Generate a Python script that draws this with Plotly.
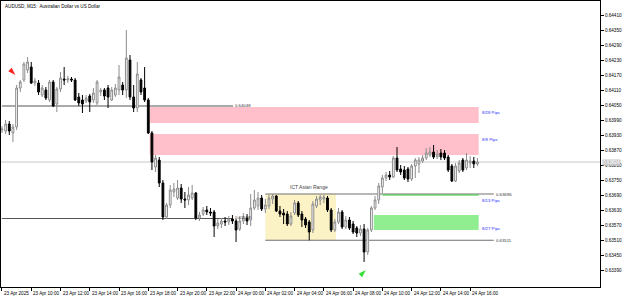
import plotly.graph_objects as go
import pandas as pd

# ---------------- data ----------------
bar_times = pd.date_range("2025-04-23 08:00", periods=131, freq="15min")

opens = [0.63952, 0.63948, 0.63976, 0.63940, 0.63964, 0.64120, 0.64152, 0.64192, 0.64204, 0.64140,
         0.64140, 0.64092, 0.64112, 0.64072, 0.64144, 0.64056, 0.64116, 0.64156, 0.64152, 0.64156,
         0.64152, 0.64084, 0.64072, 0.64068, 0.64088, 0.64072, 0.64060, 0.64104, 0.64112, 0.64120,
         0.64072, 0.64092, 0.64112, 0.64132, 0.64112, 0.64232, 0.64084, 0.64040, 0.64152, 0.64120,
         0.64072, 0.63940, 0.63804, 0.63832, 0.63740, 0.63604, 0.63652, 0.63704, 0.63680, 0.63720,
         0.63676, 0.63672, 0.63680, 0.63700, 0.63600, 0.63616, 0.63632, 0.63624, 0.63624, 0.63568,
         0.63576, 0.63588, 0.63584, 0.63596, 0.63588, 0.63556, 0.63588, 0.63600, 0.63592, 0.63640,
         0.63648, 0.63680, 0.63636, 0.63648, 0.63676, 0.63688, 0.63628, 0.63620, 0.63616, 0.63576,
         0.63620, 0.63660, 0.63616, 0.63596, 0.63584, 0.63552, 0.63648, 0.63672, 0.63676, 0.63680,
         0.63632, 0.63552, 0.63584, 0.63624, 0.63564, 0.63592, 0.63576, 0.63560, 0.63540, 0.63556,
         0.63464, 0.63552, 0.63640, 0.63672, 0.63724, 0.63760, 0.63772, 0.63764, 0.63840, 0.63796,
         0.63792, 0.63796, 0.63756, 0.63808, 0.63816, 0.63828, 0.63840, 0.63852, 0.63864, 0.63844,
         0.63860, 0.63860, 0.63844, 0.63808, 0.63748, 0.63788, 0.63832, 0.63800, 0.63820, 0.63828,
         0.63816]
highs = [0.63968, 0.63992, 0.63988, 0.63976, 0.64132, 0.64152, 0.64224, 0.64244, 0.64224, 0.64160,
         0.64152, 0.64132, 0.64124, 0.64152, 0.64152, 0.64124, 0.64184, 0.64204, 0.64168, 0.64164,
         0.64160, 0.64100, 0.64092, 0.64092, 0.64096, 0.64120, 0.64152, 0.64120, 0.64120, 0.64132,
         0.64124, 0.64136, 0.64212, 0.64144, 0.64352, 0.64252, 0.64132, 0.64224, 0.64160, 0.64204,
         0.64080, 0.63948, 0.63852, 0.63844, 0.63752, 0.63660, 0.63732, 0.63740, 0.63752, 0.63736,
         0.63704, 0.63724, 0.63732, 0.63704, 0.63624, 0.63644, 0.63648, 0.63640, 0.63632, 0.63596,
         0.63600, 0.63604, 0.63608, 0.63612, 0.63596, 0.63604, 0.63620, 0.63616, 0.63696, 0.63712,
         0.63704, 0.63692, 0.63676, 0.63692, 0.63696, 0.63692, 0.63648, 0.63636, 0.63628, 0.63624,
         0.63672, 0.63668, 0.63628, 0.63604, 0.63592, 0.63668, 0.63688, 0.63692, 0.63692, 0.63688,
         0.63640, 0.63596, 0.63640, 0.63632, 0.63608, 0.63604, 0.63588, 0.63568, 0.63572, 0.63576,
         0.63560, 0.63648, 0.63688, 0.63740, 0.63772, 0.63784, 0.63788, 0.63848, 0.63884, 0.63812,
         0.63808, 0.63804, 0.63816, 0.63840, 0.63844, 0.63852, 0.63880, 0.63884, 0.63892, 0.63872,
         0.63876, 0.63872, 0.63852, 0.63816, 0.63820, 0.63832, 0.63840, 0.63860, 0.63848, 0.63844,
         0.63840]
lows = [0.63940, 0.63936, 0.63932, 0.63904, 0.63952, 0.64104, 0.64144, 0.64180, 0.64136, 0.64128,
        0.64092, 0.64084, 0.64072, 0.64064, 0.64044, 0.64024, 0.64104, 0.64132, 0.64140, 0.64144,
        0.64068, 0.64048, 0.64020, 0.64060, 0.64024, 0.64060, 0.64052, 0.64088, 0.64072, 0.64040,
        0.64068, 0.64084, 0.64092, 0.64092, 0.64080, 0.64072, 0.64024, 0.64024, 0.64092, 0.64064,
        0.63936, 0.63792, 0.63784, 0.63724, 0.63592, 0.63596, 0.63640, 0.63684, 0.63672, 0.63660,
        0.63640, 0.63652, 0.63672, 0.63592, 0.63588, 0.63608, 0.63612, 0.63608, 0.63524, 0.63556,
        0.63560, 0.63568, 0.63572, 0.63576, 0.63504, 0.63548, 0.63576, 0.63572, 0.63568, 0.63632,
        0.63632, 0.63628, 0.63620, 0.63636, 0.63656, 0.63624, 0.63604, 0.63576, 0.63568, 0.63568,
        0.63612, 0.63604, 0.63564, 0.63560, 0.63511, 0.63540, 0.63640, 0.63652, 0.63660, 0.63624,
        0.63544, 0.63544, 0.63576, 0.63556, 0.63556, 0.63552, 0.63536, 0.63524, 0.63528, 0.63424,
        0.63452, 0.63544, 0.63632, 0.63656, 0.63700, 0.63748, 0.63752, 0.63760, 0.63784, 0.63772,
        0.63752, 0.63744, 0.63748, 0.63760, 0.63780, 0.63820, 0.63832, 0.63844, 0.63836, 0.63836,
        0.63832, 0.63832, 0.63784, 0.63744, 0.63744, 0.63780, 0.63784, 0.63792, 0.63800, 0.63800,
        0.63808]
closes = [0.63956, 0.63976, 0.63948, 0.63964, 0.64120, 0.64144, 0.64216, 0.64224, 0.64140, 0.64148,
          0.64104, 0.64120, 0.64080, 0.64144, 0.64048, 0.64116, 0.64160, 0.64152, 0.64156, 0.64152,
          0.64072, 0.64060, 0.64056, 0.64080, 0.64064, 0.64100, 0.64144, 0.64112, 0.64088, 0.64084,
          0.64112, 0.64120, 0.64164, 0.64112, 0.64240, 0.64084, 0.64040, 0.64176, 0.64104, 0.64072,
          0.63940, 0.63824, 0.63840, 0.63740, 0.63604, 0.63652, 0.63712, 0.63716, 0.63720, 0.63676,
          0.63672, 0.63692, 0.63700, 0.63600, 0.63612, 0.63632, 0.63624, 0.63620, 0.63568, 0.63580,
          0.63588, 0.63584, 0.63596, 0.63588, 0.63552, 0.63588, 0.63600, 0.63588, 0.63640, 0.63672,
          0.63680, 0.63636, 0.63652, 0.63680, 0.63688, 0.63628, 0.63616, 0.63612, 0.63576, 0.63608,
          0.63660, 0.63612, 0.63592, 0.63572, 0.63544, 0.63656, 0.63676, 0.63684, 0.63684, 0.63632,
          0.63552, 0.63584, 0.63624, 0.63564, 0.63592, 0.63560, 0.63544, 0.63540, 0.63556, 0.63464,
          0.63552, 0.63640, 0.63672, 0.63728, 0.63760, 0.63772, 0.63764, 0.63840, 0.63792, 0.63784,
          0.63760, 0.63756, 0.63808, 0.63832, 0.63832, 0.63840, 0.63860, 0.63864, 0.63844, 0.63856,
          0.63844, 0.63840, 0.63792, 0.63748, 0.63808, 0.63820, 0.63792, 0.63832, 0.63828, 0.63816,
          0.63824]

x_tick_times = ["2025-04-23 08:00", "2025-04-23 10:00", "2025-04-23 12:00", "2025-04-23 14:00",
                "2025-04-23 16:00", "2025-04-23 18:00", "2025-04-23 20:00", "2025-04-23 22:00",
                "2025-04-24 00:00", "2025-04-24 02:00", "2025-04-24 04:00", "2025-04-24 06:00",
                "2025-04-24 08:00", "2025-04-24 10:00", "2025-04-24 12:00", "2025-04-24 14:00",
                "2025-04-24 16:00"]
x_tick_labels = ["23 Apr 2025", "23 Apr 10:00", "23 Apr 12:00", "23 Apr 14:00", "23 Apr 16:00",
                 "23 Apr 18:00", "23 Apr 20:00", "23 Apr 22:00", "24 Apr 00:00", "24 Apr 02:00",
                 "24 Apr 04:00", "24 Apr 06:00", "24 Apr 08:00", "24 Apr 10:00", "24 Apr 12:00",
                 "24 Apr 14:00", "24 Apr 16:00"]
y_tick_vals = [0.64410, 0.64350, 0.64290, 0.64230, 0.64170, 0.64110, 0.64050, 0.63990, 0.63930,
               0.63870, 0.63810, 0.63750, 0.63690, 0.63630, 0.63570, 0.63510, 0.63450, 0.63390]

bid_price = 0.63824
prev_levels = [0.64048, 0.63598]           # left lines with labels
asian_high, asian_low = 0.63696, 0.63511
pink_zones = [(0.64044, 0.63980, "8/28 Pips"), (0.63936, 0.63852, "8/9 Pips")]
green_zone = (0.63612, 0.63552, "8/27 Pips")
green_line = (0.63692, "8/13 Pips")
sell_arrow = ("2025-04-23 08:55", 0.64172)
buy_arrow = ("2025-04-24 08:52", 0.63392)

# time anchors for drawings
t_levels_end = "2025-04-23 23:48"
t_zone_start = "2025-04-23 18:06"
t_zone_end = "2025-04-24 16:35"
t_asia_start = "2025-04-24 02:00"
t_asia_box_end = "2025-04-24 06:50"
t_asia_line_end = "2025-04-24 17:37"
t_green_start = "2025-04-24 09:25"
t_gline_start = "2025-04-24 10:00"

FONT = "Liberation Sans"

fig = go.Figure()
fig.add_trace(go.Candlestick(
    x=bar_times, open=opens, high=highs, low=lows, close=closes,
    increasing=dict(line=dict(color="#8c8c8c", width=1), fillcolor="white"),
    decreasing=dict(line=dict(color="black", width=1), fillcolor="black"),
    whiskerwidth=0, hoverinfo="skip", showlegend=False,
))

# arrows
fig.add_trace(go.Scatter(x=[sell_arrow[0]], y=[sell_arrow[1]], mode="markers",
                         marker=dict(symbol="arrow", angle=135, size=8, color="#ff2020"),
                         hoverinfo="skip", showlegend=False))
fig.add_trace(go.Scatter(x=[buy_arrow[0]], y=[buy_arrow[1]], mode="markers",
                         marker=dict(symbol="arrow", angle=45, size=8, color="#33dd33"),
                         hoverinfo="skip", showlegend=False))

shapes = []
# pink zones
for top, bot, _ in pink_zones:
    shapes.append(dict(type="rect", xref="x", yref="y", x0=t_zone_start, x1=t_zone_end,
                       y0=bot, y1=top, fillcolor="#ffc0cb", line=dict(width=0), layer="below"))
# green zone
shapes.append(dict(type="rect", xref="x", yref="y", x0=t_green_start, x1=t_zone_end,
                   y0=green_zone[1], y1=green_zone[0], fillcolor="#90ee90", line=dict(width=0), layer="below"))
# asian box
shapes.append(dict(type="rect", xref="x", yref="y", x0=t_asia_start, x1=t_asia_box_end,
                   y0=asian_low, y1=asian_high, fillcolor="#fbf2c6", line=dict(width=0), layer="below"))
# bid line
shapes.append(dict(type="line", xref="paper", yref="y", x0=0, x1=1, y0=bid_price, y1=bid_price,
                   line=dict(color="#c8c8c8", width=1), layer="below"))
# prev levels
for lv in prev_levels:
    shapes.append(dict(type="line", xref="x", yref="y", x0=bar_times[0], x1=t_levels_end, y0=lv, y1=lv,
                       line=dict(color="#555555", width=1), layer="below"))
# asian lines
for lv in (asian_high, asian_low):
    shapes.append(dict(type="line", xref="x", yref="y", x0=t_asia_start, x1=t_asia_line_end, y0=lv, y1=lv,
                       line=dict(color="#707070", width=1), layer="below"))
# green line
shapes.append(dict(type="line", xref="x", yref="y", x0=t_gline_start, x1=t_zone_end,
                   y0=green_line[0], y1=green_line[0], line=dict(color="#33cc33", width=1)))

ann = []
ann.append(dict(text="AUDUSD, M15:  Australian Dollar vs US Dollar", xref="paper", yref="paper",
                x=0, y=1, xanchor="left", yanchor="top", xshift=2, yshift=-1, showarrow=False,
                font=dict(family=FONT, size=4.6, color="black")))
for t, lab in zip(x_tick_times, x_tick_labels):
    ann.append(dict(text=lab, xref="x", yref="paper", x=t, y=0, xanchor="left", yanchor="top",
                    xshift=0, yshift=-2, showarrow=False, font=dict(family=FONT, size=4.6, color="black")))
for lv in prev_levels:
    ann.append(dict(text=f"{lv:.5f}", xref="x", yref="y", x=t_levels_end, y=lv, xanchor="left",
                    yanchor="middle", yshift=1, showarrow=False, font=dict(family=FONT, size=4.3, color="#333333")))
for lv in (asian_high, asian_low):
    ann.append(dict(text=f"{lv:.5f}", xref="x", yref="y", x=t_asia_line_end, y=lv, xanchor="left",
                    yanchor="middle", showarrow=False, font=dict(family=FONT, size=4.3, color="#333333")))
ann.append(dict(text="ICT Asian Range", xref="x", yref="y", x="2025-04-24 05:00", y=asian_high,
                yanchor="bottom", yshift=2, showarrow=False, font=dict(family=FONT, size=5, color="#444444")))
for top, bot, lab in pink_zones:
    ann.append(dict(text=lab, xref="x", yref="y", x=t_zone_end, y=top, xanchor="left", yanchor="top",
                    yshift=-1, xshift=1, showarrow=False, font=dict(family=FONT, size=4.3, color="#2a2aff")))
ann.append(dict(text=green_line[1], xref="x", yref="y", x=t_zone_end, y=green_line[0], xanchor="left",
                yanchor="top", yshift=-1, xshift=1, showarrow=False, font=dict(family=FONT, size=4.3, color="#2a2aff")))
ann.append(dict(text=green_zone[2], xref="x", yref="y", x=t_zone_end, y=green_zone[1], xanchor="left",
                yanchor="middle", yshift=2, xshift=1, showarrow=False, font=dict(family=FONT, size=4.3, color="#2a2aff")))
# bid label on axis
ann.append(dict(text=f"{bid_price:.5f}", xref="paper", yref="y", x=1, y=bid_price, xanchor="left",
                yanchor="middle", xshift=2, showarrow=False, bgcolor="#c4c4c4", borderpad=0,
                font=dict(family=FONT, size=4.6, color="white")))

fig.update_layout(
    width=625, height=297, margin=dict(l=1, r=25, t=1, b=10),
    paper_bgcolor="white", plot_bgcolor="white", showlegend=False,
    shapes=shapes, annotations=ann,
    xaxis=dict(type="date", range=["2025-04-23 07:56", "2025-04-25 00:52:30"], rangeslider=dict(visible=False),
               tickvals=x_tick_times, showticklabels=False, ticks="outside", ticklen=3, tickcolor="black",
               showgrid=False, zeroline=False, showline=True, mirror=True, linecolor="black", linewidth=1),
    yaxis=dict(side="right", range=[0.63324, 0.64468], tickvals=y_tick_vals, tickformat=".5f",
               ticks="outside", ticklen=3, tickcolor="black", showgrid=False, zeroline=False,
               showline=True, mirror=True, linecolor="black", linewidth=1,
               tickfont=dict(family=FONT, size=4.6, color="black")),
)

fig.write_html("out.html")
